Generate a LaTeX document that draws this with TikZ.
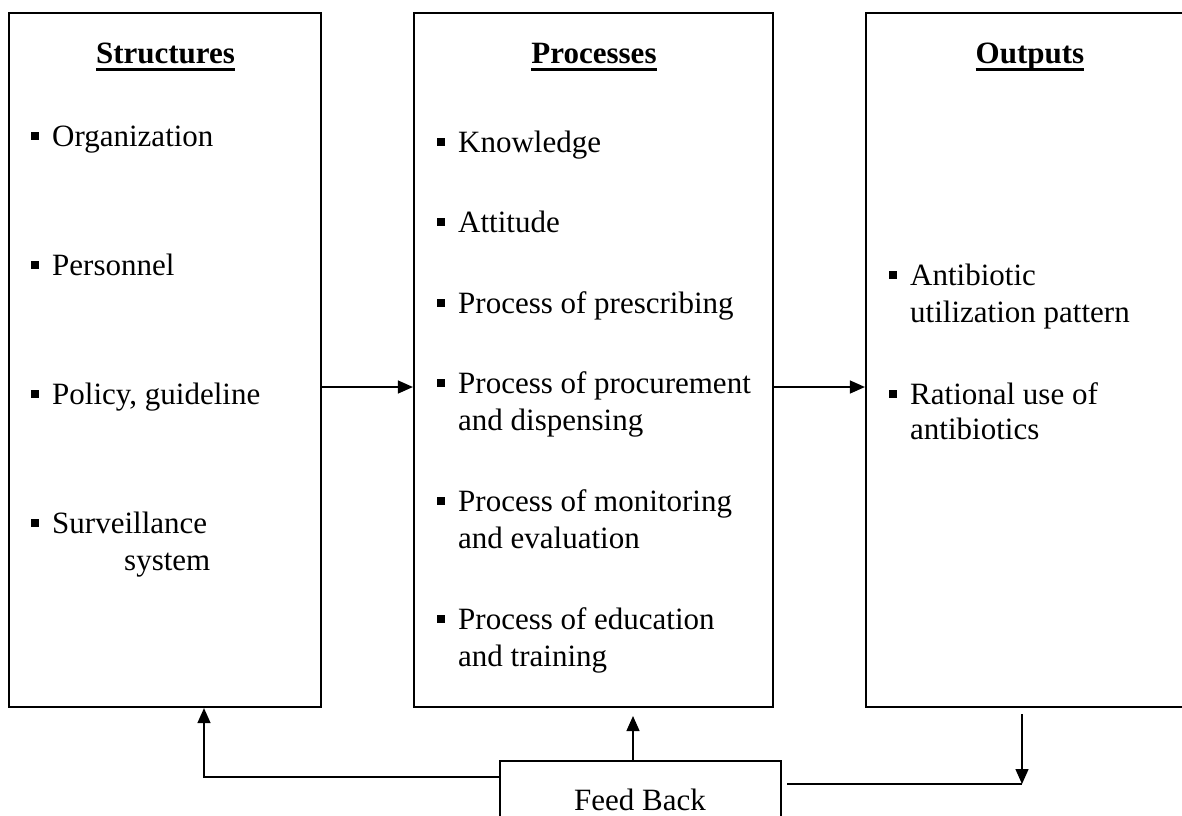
\documentclass[tikz,border=0pt]{standalone}
\usepackage{fontspec}
\setmainfont{Liberation Serif}
\usetikzlibrary{arrows.meta}

% small filled square bullet followed by the gap to the item text
\newcommand\sqbul{\rule[6.5pt]{8pt}{8pt}\hspace{13pt}}
% bold heading with a heavy underline at a fixed depth
\newcommand\headline[1]{\setbox0=\hbox{\bfseries #1}\rlap{\rule[-7.5pt]{\wd0}{2.5pt}}\box0}

\begin{document}
\begin{tikzpicture}[x=1pt,y=-1pt,
  panel/.style={draw, line width=2.2pt, minimum width=#1, minimum height=694pt, inner sep=0pt},
  fbbox/.style={draw, line width=1.4pt, minimum width=281pt, minimum height=84pt, inner sep=0pt},
  head/.style={anchor=base, inner sep=0pt, font=\fontsize{31}{37}\selectfont},
  txt/.style={anchor=base west, inner sep=0pt, font=\fontsize{31}{37}\selectfont},
  conn/.style={line width=1.4pt},
  tip/.style={-{Triangle[length=15pt,width=13pt]}}
]
\useasboundingbox (0,0) rectangle (1182,815);
\clip (0,0) rectangle (1182,815);

% the three panels
\node[panel=312pt] (s) at (165,360) {};
\node[panel=359pt] (p) at (593.5,360) {};
\node[panel=328pt] (o) at (1030,360) {};

% headings
\node[head] (sh) at (165.5,63) {\headline{Structures}};
\node[head] (ph) at (594,63) {\headline{Processes}};
\node[head] (oh) at (1030,63) {\headline{Outputs}};

% structures
\node[txt] (s1) at (31,146) {\sqbul Organization};
\node[txt] (s2) at (31,275) {\sqbul Personnel};
\node[txt] (s3) at (31,404) {\sqbul Policy, guideline};
\node[txt] (s4) at (31,533) {\sqbul Surveillance};
\node[txt] (s4b) at (124,570) {system};

% processes
\node[txt] (p1) at (437,152) {\sqbul Knowledge};
\node[txt] (p2) at (437,232.6) {\sqbul Attitude};
\node[txt] (p3) at (437,313.2) {\sqbul Process of prescribing};
\node[txt] (p4) at (437,393.8) {\sqbul Process of procurement};
\node[txt] (p4b) at (458,430.8) {and dispensing};
\node[txt] (p5) at (437,511.4) {\sqbul Process of monitoring};
\node[txt] (p5b) at (458,548.4) {and evaluation};
\node[txt] (p6) at (437,629) {\sqbul Process of education};
\node[txt] (p6b) at (458,666) {and training};

% outputs
\node[txt] (o1) at (889,285) {\sqbul Antibiotic};
\node[txt] (o1b) at (910,322) {utilization pattern};
\node[txt] (o2) at (889,404) {\sqbul Rational use of};
\node[txt] (o2b) at (910,439) {antibiotics};

% feedback box
\node[fbbox] (fb) at (640.5,803) {};
\node[txt, anchor=base] (fbt) at (640,810) {Feed Back};

% forward arrows
\coordinate (row) at (0,387);
\draw[conn,tip] (s.east |- row) -- (p.west |- row);
\draw[conn,tip] (p.east |- row) -- (o.west |- row);

% feedback loop
\coordinate (uptip) at (633,716);
\draw[conn,tip] (fb.north -| uptip) -- (uptip);

\coordinate (lcorner) at (204,777);
\draw[conn,tip] (fb.west |- lcorner) -- (lcorner) -- (s.south -| lcorner);

\coordinate (dtop) at (1022,714);
\coordinate (dbot) at (1022,784);
\coordinate (rstart) at (787,784);
\draw[conn,tip] (dtop) -- (dbot);
\draw[conn] (rstart) -- (dbot);
\end{tikzpicture}
\end{document}
